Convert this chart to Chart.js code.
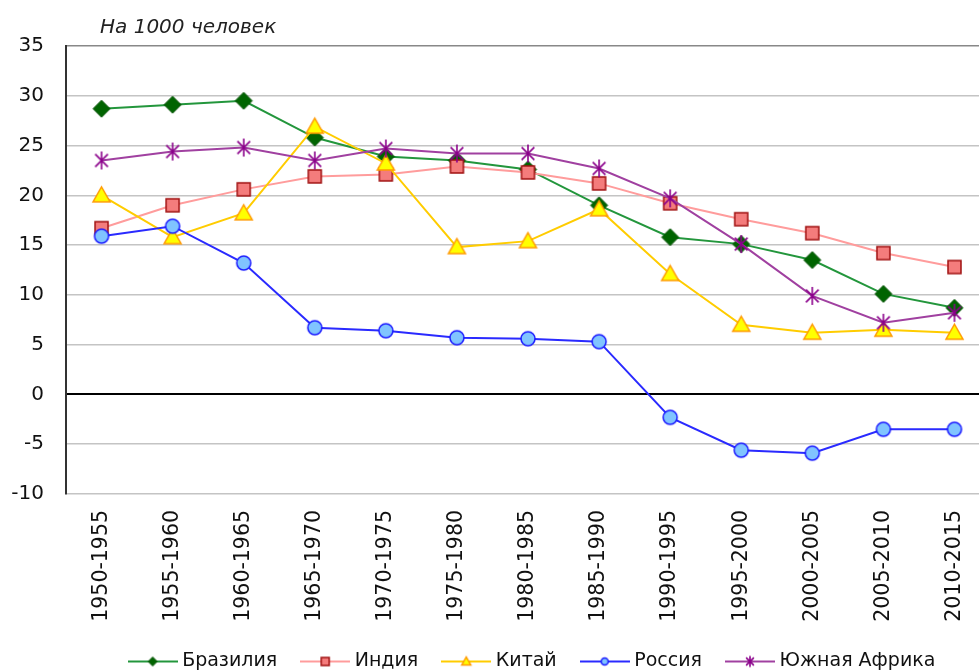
<!DOCTYPE html>
<html lang="ru">
<head>
<meta charset="UTF-8">
<title>Естественный прирост населения</title>
<script src="https://cdn.jsdelivr.net/npm/chart.js"></script>
<style>
    html, body {
        margin: 0;
        padding: 0;
        background: #fff;
        overflow: hidden;
    }
    #wrap {
        width: 996px;
        height: 672px;
    }
</style>
</head>
<body>
<div id="wrap"><canvas id="chart" width="996" height="672"></canvas></div>

<script>
    // data, per 1000 people
    const periods = ["1950-1955", "1955-1960", "1960-1965", "1965-1970", "1970-1975", "1975-1980", "1980-1985",
                     "1985-1990", "1990-1995", "1995-2000", "2000-2005", "2005-2010", "2010-2015"];
    const brazil = [28.7, 29.1, 29.5, 25.8, 23.9, 23.5, 22.6, 19.0, 15.8, 15.1, 13.5, 10.1, 8.7];
    const india = [16.7, 19.0, 20.6, 21.9, 22.1, 22.9, 22.3, 21.2, 19.2, 17.6, 16.2, 14.2, 12.8];
    const china = [20.0, 15.8, 18.2, 26.9, 23.2, 14.8, 15.4, 18.6, 12.1, 7.0, 6.2, 6.5, 6.2];
    const russia = [15.9, 16.9, 13.2, 6.7, 6.4, 5.7, 5.6, 5.3, -2.3, -5.6, -5.9, -3.5, -3.5];
    const southAfrica = [23.5, 24.4, 24.8, 23.5, 24.7, 24.2, 24.2, 22.7, 19.7, 15.1, 9.9, 7.2, 8.2];
    const yTicks = [35, 30, 25, 20, 15, 10, 5, 0, -5, -10];
    const seriesNames = ["Бразилия", "Индия", "Китай", "Россия", "Южная Африка"];

    const FONT = '"DejaVu Sans", Arial, sans-serif';

    // marker painters
    function diamond(g, x, y, r, fill, stroke) {
        g.beginPath();
        g.moveTo(x, y - r); g.lineTo(x + r, y); g.lineTo(x, y + r); g.lineTo(x - r, y);
        g.closePath();
        g.fillStyle = fill; g.fill();
        g.strokeStyle = stroke; g.lineWidth = 1; g.stroke();
    }
    function square(g, x, y, r, fill, stroke) {
        g.fillStyle = fill;
        g.fillRect(x - r, y - r, 2 * r, 2 * r);
        g.strokeStyle = stroke; g.lineWidth = 1.5;
        g.strokeRect(x - r, y - r, 2 * r, 2 * r);
    }
    function triangle(g, x, y, r, fill, stroke) {
        g.beginPath();
        g.moveTo(x, y - r); g.lineTo(x + r, y + r * 0.75); g.lineTo(x - r, y + r * 0.75);
        g.closePath();
        g.fillStyle = fill; g.fill();
        g.strokeStyle = stroke; g.lineWidth = 1.5; g.stroke();
    }
    function circle(g, x, y, r, fill, stroke) {
        g.beginPath();
        g.arc(x, y, r, 0, Math.PI * 2);
        g.fillStyle = fill; g.fill();
        g.strokeStyle = stroke; g.lineWidth = 1.5; g.stroke();
    }
    function star(g, x, y, r, fill, stroke) {
        const d = r * Math.SQRT1_2;
        g.beginPath();
        g.moveTo(x, y - r); g.lineTo(x, y + r);
        g.moveTo(x - d, y - d); g.lineTo(x + d, y + d);
        g.moveTo(x + d, y - d); g.lineTo(x - d, y + d);
        g.strokeStyle = stroke; g.lineWidth = 1.6; g.stroke();
    }

    const styles = [
        { line: "#23963c", fill: "#006400", stroke: "#005000", paint: diamond, r: 8.5, lr: 4.5 },
        { line: "#ff9c9c", fill: "#f47c7c", stroke: "#a01010", paint: square, r: 6.5, lr: 4 },
        { line: "#ffcc00", fill: "#ffff00", stroke: "#ff9900", paint: triangle, r: 8.5, lr: 4.5 },
        { line: "#2a2aff", fill: "#80c4ff", stroke: "#1a1aff", paint: circle, r: 7, lr: 3.5 },
        { line: "#a040a0", fill: "#8b008b", stroke: "#8b008b", paint: star, r: 9, lr: 5.5 }
    ];

    function markerCanvas(s) {
        const size = Math.ceil(s.r * 2 + 4);
        const c = document.createElement("canvas");
        c.width = size; c.height = size;
        s.paint(c.getContext("2d"), size / 2, size / 2, s.r, s.fill, s.stroke);
        return c;
    }

    function legendIcon(s) {
        const c = document.createElement("canvas");
        c.width = 50; c.height = 14;
        const g = c.getContext("2d");
        g.strokeStyle = s.line; g.lineWidth = 2;
        g.beginPath(); g.moveTo(0, 7); g.lineTo(50, 7); g.stroke();
        s.paint(g, 25, 7, s.lr, s.fill, s.stroke);
        return c;
    }

    const markers = styles.map(markerCanvas);
    const icons = styles.map(legendIcon);
    const values = [brazil, india, china, russia, southAfrica];

    const unitLabel = {
        id: "unitLabel",
        afterDraw(chart) {
            const ctx = chart.ctx;
            ctx.save();
            ctx.font = "oblique 20px " + FONT;
            ctx.fillStyle = "#222";
            ctx.textBaseline = "alphabetic";
            ctx.fillText("На 1000 человек", chart.chartArea.left + 34, 33);
            ctx.restore();
        }
    };

    // the legend row sits a bit right of the page centre in the original
    const legendShift = {
        id: "legendShift",
        afterLayout(chart) {
            if (chart.legend) {
                chart.legend.left += 31;
                chart.legend.right += 31;
            }
        }
    };

    new Chart(document.getElementById("chart"), {
        type: "line",
        data: {
            labels: periods,
            datasets: values.map((v, i) => ({
                label: seriesNames[i],
                data: v,
                borderColor: styles[i].line,
                backgroundColor: styles[i].fill,
                borderWidth: 2,
                pointStyle: markers[i],
                tension: 0,
                fill: false,
                order: 5 - i
            }))
        },
        options: {
            responsive: false,
            animation: false,
            events: [],
            layout: { padding: { left: 11, top: 46, right: 1, bottom: -9 } },
            scales: {
                x: {
                    offset: true,
                    grid: { display: false, drawTicks: false },
                    border: { display: false },
                    afterFit: axis => { axis.height = 130; },
                    ticks: {
                        autoSkip: false,
                        minRotation: 90,
                        maxRotation: 90,
                        padding: 16,
                        color: "#111",
                        font: { family: FONT, size: 20.5 }
                    }
                },
                y: {
                    min: -10,
                    max: 35,
                    afterBuildTicks: axis => { axis.ticks = yTicks.map(v => ({ value: v })); },
                    afterFit: axis => { axis.width = 55; },
                    grid: {
                        drawTicks: false,
                        color: c => c.tick.value === 0 ? "#000" : (c.tick.value === 35 ? "#888" : "#c4c4c4"),
                        lineWidth: c => c.tick.value === 0 ? 2 : 1.5
                    },
                    border: { color: "#333", width: 2 },
                    ticks: {
                        padding: 22,
                        color: "#111",
                        font: { family: FONT, size: 20 }
                    }
                }
            },
            plugins: {
                legend: {
                    position: "bottom",
                    labels: {
                        usePointStyle: true,
                        pointStyleWidth: 40,
                        padding: 28,
                        color: "#111",
                        font: { family: FONT, size: 19 },
                        sort: (a, b) => a.datasetIndex - b.datasetIndex,
                        generateLabels(chart) {
                            const items = Chart.defaults.plugins.legend.labels.generateLabels(chart);
                            items.forEach(it => { it.pointStyle = icons[it.datasetIndex]; });
                            return items;
                        }
                    }
                },
                title: { display: false },
                tooltip: { enabled: false }
            }
        },
        plugins: [unitLabel, legendShift]
    });
</script>
</body>
</html>
